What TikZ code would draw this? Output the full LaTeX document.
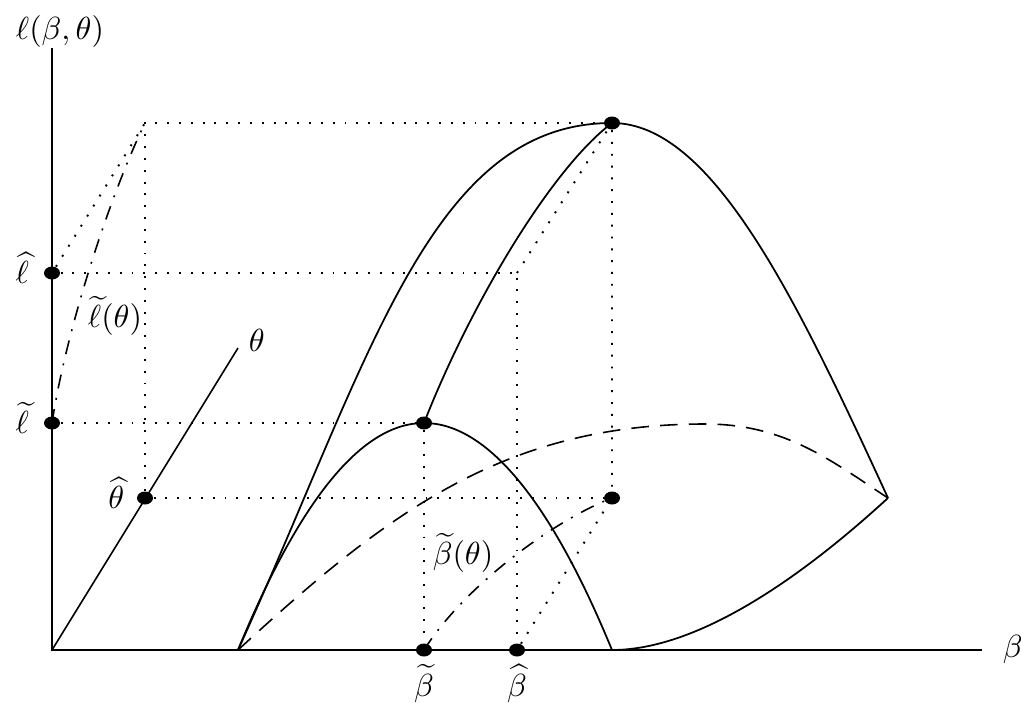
\documentclass[tikz,border=0pt]{standalone}
\usepackage{amsmath}
\usepackage{tikz}
\usetikzlibrary{positioning, calc, shapes}
\tikzset{>=stealth}
\tikzset{spot/.style={ellipse, fill=black, inner sep=0pt, minimum width=0.176cm, minimum height=0.143cm},
  axisline/.style={line width=0.5pt},
  solidline/.style={line width=0.55pt},
  dotline/.style={line width=0.6pt, dash pattern=on 0.6pt off 3.1pt},
  dashline/.style={line width=0.5pt, dash pattern=on 5.5pt off 3.5pt},
  dashdotline/.style={line width=0.5pt, dash pattern=on 4.4pt off 3pt on 0.6pt off 3pt}}

\begin{document}
\begin{tikzpicture}[x=0.011cm, y=-0.011cm, every node/.style={inner sep=1pt}]
        \useasboundingbox (0,0) rectangle (1021,702);
        % axes and corners
        \coordinate (o) at (52,650);
        \coordinate (ytop) at (52,48);
        \coordinate (xend) at (982,650);
        \coordinate (ttop) at (238,348);
        \coordinate (a) at (238,650);
        \coordinate (b2) at (612,650);
        \coordinate (c) at (888,498);
        \coordinate (k) at (145,123);
        \coordinate (m) at (517,273);
        \coordinate (d) at (705,424);
        % marked points
        \node[spot] (lh) at (52,273) {};
        \node[spot] (lt) at (52,423) {};
        \node[spot] (th) at (145,498) {};
        \node[spot] (ptil) at (424,423) {};
        \node[spot] (phat) at (612,123) {};
        \node[spot] (qhat) at (612,498) {};
        \node[spot] (bt) at (424,650) {};
        \node[spot] (bh) at (517,650) {};

        \draw[axisline] (ytop) -- (o) -- (xend);
        \draw[axisline] (o) -- (ttop);

        \draw[dotline] (th) -- (k) -- (phat);
        \draw[dotline] (th) -- (qhat);
        \draw[dotline] (lh) -- (k);
        \draw[dotline] (lh) -- (m) -- (bh);
        \draw[dotline] (m) -- (phat) -- (qhat);
        \draw[dotline] (bh) -- (qhat);
        \draw[dotline] (lt) -- (ptil) -- (bt);

        \draw[solidline] (a) .. controls (370,360) and (430,123) .. (phat.center) .. controls (712,123) and (796,298) .. (c);
        \draw[solidline] (a) .. controls (300,499) and (362,423) .. (ptil.center) .. controls (486,423) and (550,499) .. (b2);
        \draw[solidline] (ptil.center) .. controls (471,303) and (552,168) .. (phat.center);
        \draw[solidline] (b2) .. controls (712,650) and (829,552) .. (c);
        \draw[dashline] (a) .. controls (388,512) and (505,424) .. (d) .. controls (785,424) and (830,460) .. (c);
        \draw[dashdotline] (lt.center) .. controls (66,330) and (110,195) .. (k);
        \draw[dashdotline] (bt.center) .. controls (465,585) and (555,520) .. (qhat.center);

        \node[above=-1pt of ytop, xshift=2.5pt] (ylabel) {$\ell(\beta,\theta)$};
        \node[right=5.3pt of xend] (xlabel) {$\beta$};
        \node[above right=-2.2pt and 2.2pt of ttop] (tlabel) {$\theta$};
        \node[left=3.3pt of lh, yshift=1.5pt] (lhlabel) {$\widehat{\ell}$};
        \node[left=3.3pt of lt, yshift=1.5pt] (ltlabel) {$\widetilde{\ell}$};
        \node[left=2.6pt of th, yshift=1.5pt] (thlabel) {$\widehat{\theta}$};
        \node[below=1.2pt of bt] (btlabel) {$\widetilde{\beta}$};
        \node[below=1.2pt of bh] (bhlabel) {$\widehat{\beta}$};
        \node (lcurve) at (115,316) {$\widetilde{\ell}(\theta)$};
        \node (bcurve) at (463,553) {$\widetilde{\beta}(\theta)$};
      \end{tikzpicture}
\end{document}
